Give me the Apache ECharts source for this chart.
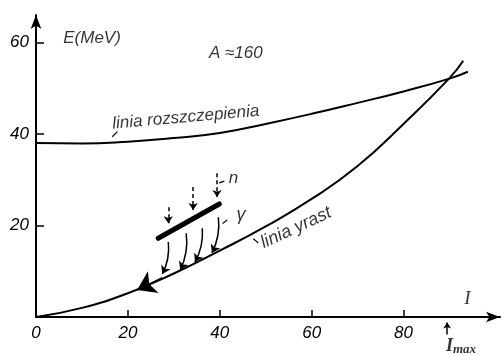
<!DOCTYPE html>
<html>
<head>
<meta charset="utf-8">
<script src="https://cdn.jsdelivr.net/npm/echarts@6/dist/echarts.min.js"></script>
<style>
html, body { margin: 0; padding: 0; background: #fff; }
#main { width: 502px; height: 355px; }
</style>
</head>
<body>
<div id="main"></div>
<script>
// linia rozszczepienia
var fissionI = [0, 10, 20, 30, 40, 50, 60, 70, 80, 90, 94];
var fissionE = [38, 37.9, 38.3, 39.1, 40.2, 42.2, 44.4, 46.8, 49.3, 52.1, 53.6];
// linia yrast
var yrastI = [0, 10, 20, 30, 40, 50, 60, 70, 80, 90, 93];
var yrastE = [0, 2, 5.2, 9.5, 14.5, 19.8, 25.8, 33, 42.2, 52.2, 56];
// pasmo gamma (gruba kreska)
var bandI = [26.6, 39.9];
var bandE = [17.2, 24.7];
// neutrony (strzalki przerywane)
var neutronI = [28.8, 34.2, 39.4];
var neutronTop = [24, 28.4, 31.4];
var neutronBottom = [20.5, 23.4, 26.2];
// kaskada gamma
var gammaStartI = [28.8, 32.7, 36.2, 39.7];
var gammaStartE = [16.4, 18.3, 19.4, 21.8];
var gammaEndI = [27.5, 31.4, 34.6, 38.3];
var gammaEndE = [9.4, 10.3, 12, 14];
// osie
var xTicks = [20, 40, 60, 80];
var xLabels = [0, 20, 40, 60, 80];
var yTicks = [20, 40, 60];
var iMax = 89.5;

var FONT = 'Liberation Sans';
var SERIF = 'Liberation Serif';

function pairs(a, b) {
	var out = [];
	for (var i = 0; i < a.length; i++) {
		out.push([a[i], b[i]]);
	}
	return out;
}

function segs(x1, y1, x2, y2) {
	var out = [];
	for (var i = 0; i < x1.length; i++) {
		out.push({ coords: [[x1[i], y1[i]], [x2[i], y2[i]]] });
	}
	return out;
}

function txt(x, y, text, rot, size, family) {
	return {
		value: [x, y],
		label: { formatter: text, rotate: rot || 0, fontSize: size || 15, fontFamily: family || FONT }
	};
}

var myChart = echarts.init(document.getElementById('main'));

myChart.setOption({
	backgroundColor: '#fff',
	animation: false,
	grid: { left: 36, right: 2, top: 15, bottom: 38, outerBoundsMode: 'none' },
	xAxis: {
		type: 'value', min: 0, max: 101,
		splitLine: { show: false },
		axisLine: { lineStyle: { color: '#000', width: 2 }, symbol: ['none', 'arrow'], symbolSize: [8, 14] },
		axisTick: { inside: true, length: 7, customValues: xTicks, lineStyle: { color: '#000', width: 1.5 } },
		axisLabel: { customValues: xLabels, color: '#000', fontSize: 17, fontStyle: 'italic', fontFamily: FONT, margin: 8 }
	},
	yAxis: {
		type: 'value', min: 0, max: 66,
		splitLine: { show: false },
		axisLine: { lineStyle: { color: '#000', width: 2 }, symbol: ['none', 'arrow'], symbolSize: [8, 14] },
		axisTick: { inside: true, length: 8, customValues: yTicks, lineStyle: { color: '#000', width: 1.5 } },
		axisLabel: { customValues: yTicks, color: '#000', fontSize: 17, fontStyle: 'italic', fontFamily: FONT, margin: 7 }
	},
	series: [ {
		name: 'rozszczepienie',
		type: 'line', smooth: true, showSymbol: false,
		lineStyle: { color: '#000', width: 2 },
		data: pairs(fissionI, fissionE)
	}, {
		name: 'yrast',
		type: 'line', smooth: true, showSymbol: false,
		lineStyle: { color: '#000', width: 2 },
		data: pairs(yrastI, yrastE)
	}, {
		name: 'pasmo',
		type: 'line', showSymbol: false,
		lineStyle: { color: '#000', width: 5, cap: 'round' },
		data: pairs(bandI, bandE)
	}, {
		name: 'n',
		type: 'lines', coordinateSystem: 'cartesian2d',
		symbol: ['none', 'arrow'], symbolSize: 7,
		lineStyle: { color: '#000', width: 1.5, type: [4, 3], opacity: 1 },
		data: segs(neutronI, neutronTop, neutronI, neutronBottom)
	}, {
		name: 'gamma',
		type: 'lines', coordinateSystem: 'cartesian2d',
		symbol: ['none', 'arrow'], symbolSize: 8,
		lineStyle: { color: '#000', width: 1.5, curveness: 0.15, opacity: 1 },
		data: segs(gammaStartI, gammaStartE, gammaEndI, gammaEndE)
	}, {
		name: 'strzalki',
		type: 'lines', coordinateSystem: 'cartesian2d', clip: false,
		symbol: ['none', 'arrow'], symbolSize: [9, 18],
		lineStyle: { color: '#000', width: 1.5, opacity: 1 },
		data: [
			{ coords: [[27.5, 8.6], [22, 5.9]] },
			{ coords: [[iMax, -3.8], [iMax, -1.2]], symbolSize: 6 }
		]
	}, {
		// kreski odnosnikow
		name: 'odnosniki',
		type: 'lines', coordinateSystem: 'cartesian2d',
		lineStyle: { color: '#000', width: 1.2, opacity: 1 },
		data: [
			{ coords: [[16.6, 39.4], [17.7, 40.5]] },
			{ coords: [[47.3, 17.1], [48.4, 16.2]] },
			{ coords: [[39.9, 29.3], [41, 29.7]] },
			{ coords: [[40.6, 20.4], [41.6, 21.2]] }
		]
	}, {
		name: 'opisy',
		type: 'scatter', clip: false,
		symbolSize: 1,
		itemStyle: { color: 'rgba(0,0,0,0)' },
		label: {
			show: true, position: 'inside', color: '#000',
			fontStyle: 'italic', fontFamily: FONT
		},
		data: [
			txt(12.2, 61, 'E(MeV)', 0, 17),
			txt(43.5, 57.6, 'A \u2248160', 0, 17),
			txt(32.6, 43.6, 'linia rozszczepienia', 5, 17),
			txt(56.6, 19.5, 'linia yrast', 25, 18),
			txt(43, 30.3, 'n', 0, 17),
			txt(44.6, 22.2, '\u03b3', 0, 18),
			txt(93.9, 4, 'I', 0, 19, SERIF),
			{
				value: [iMax + 3, -6.4],
				label: {
					formatter: '{a|I}{b|max}',
					rich: {
						a: { fontSize: 18, fontStyle: 'italic', fontWeight: 'bold', fontFamily: SERIF, color: '#000' },
						b: { fontSize: 13, fontStyle: 'italic', fontWeight: 'bold', fontFamily: SERIF, color: '#000', padding: [6, 0, 0, 0] }
					}
				}
			}
		]
	} ]
});
</script>
</body>
</html>
